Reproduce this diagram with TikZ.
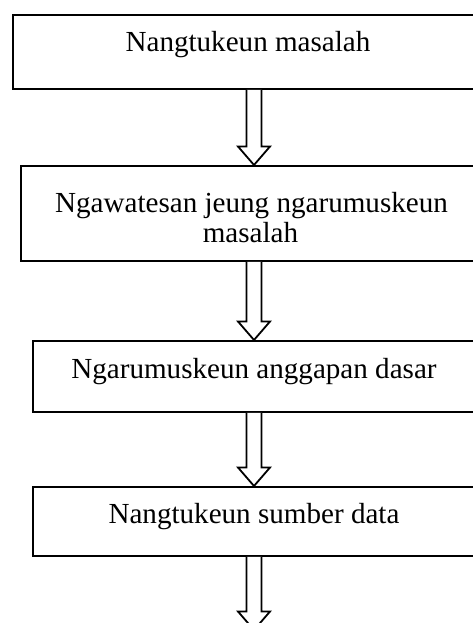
\documentclass[tikz,border=0pt]{standalone}
\usepackage{fontspec}
\setmainfont{Liberation Serif}
\usetikzlibrary{calc}
\tikzset{
  box/.style={draw=black, line width=1.8pt, fill=white, minimum width=478pt, anchor=north west, inner sep=0pt},
  txt/.style={anchor=base, inner sep=0pt, font=\fontsize{29.1}{31}\selectfont},
  arr/.style={draw=black, line width=1.8pt, fill=white, line join=miter},
}
\newcommand{\blockarr}[2]{%
  \draw[arr] let \p1=(#1.south -| ax), \p2=(#2 -| ax) in
    (\x1-7.5pt,\y1) -- (\x1-7.5pt,\y2+18.5pt) -- (\x1-16pt,\y2+18.5pt) -- (\p2)
    -- (\x1+16pt,\y2+18.5pt) -- (\x1+7.5pt,\y2+18.5pt) -- (\x1+7.5pt,\y1);}
\begin{document}
\begin{tikzpicture}[x=1pt,y=1pt]
\useasboundingbox (0,0) rectangle (472,-623);
\coordinate (ax) at (254,0);
\node[box, minimum height=74pt] (b1) at (12,-14) {};
\node[box, minimum height=95pt] (b2) at (20,-165) {};
\node[box, minimum height=71pt] (b3) at (32,-340) {};
\node[box, minimum height=69pt] (b4) at (32,-486) {};
\coordinate (end) at (254,-630);
\node[txt] (t1) at (248,-52) {Nangtukeun masalah};
\node[txt] (t2a) at (251.5,-212) {Ngawatesan jeung ngarumuskeun};
\node[txt] (t2b) at (250.5,-242.5) {masalah};
\node[txt] (t3) at (254,-378) {Ngarumuskeun anggapan dasar};
\node[txt] (t4) at (254,-523) {Nangtukeun sumber data};
\blockarr{b1}{b2.north}
\blockarr{b2}{b3.north}
\blockarr{b3}{b4.north}
\blockarr{b4}{end}
\end{tikzpicture}
\end{document}
